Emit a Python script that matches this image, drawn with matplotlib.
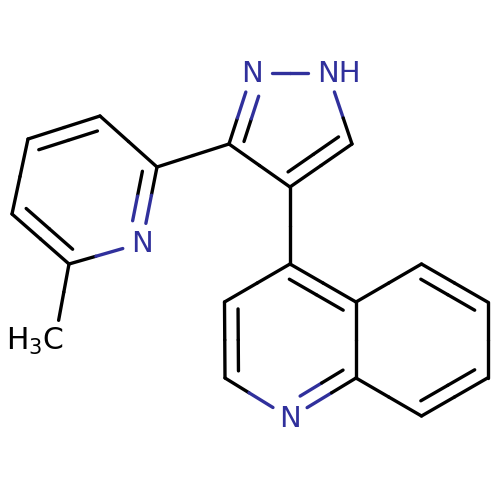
import numpy as np
import matplotlib
matplotlib.use("Agg")
import matplotlib.pyplot as plt

# ------------------ atoms (pixel positions) ------------------
atom_x = [290, 224.5, 225, 290, 356, 356, 421.5, 487.5, 487.5, 421.5,
          290, 229, 252, 328, 352,
          157, 100, 28, 12, 69, 142, 55]
atom_y = [264, 302, 378, 418, 378, 302, 264, 302, 378, 416,
          187, 144, 73, 73, 144,
          167, 116, 139, 214, 264, 243, 340]
atom_labels = {3: "N", 12: "N", 13: "NH", 20: "N", 21: "H$_3$C"}
hetero_atoms = [3, 12, 13, 20]

# ------------------ bonds ------------------
single_bonds = [(0, 1), (2, 3), (4, 5), (5, 6), (7, 8), (9, 4),
                (0, 10), (10, 11), (12, 13), (13, 14), (11, 15),
                (15, 16), (17, 18), (19, 20), (19, 21)]
# (atom, atom, atoms of the ring the inner line leans to)
double_bonds = [(0, 5, (0, 1, 2, 3, 4, 5)), (1, 2, (0, 1, 2, 3, 4, 5)), (3, 4, (0, 1, 2, 3, 4, 5)),
                (6, 7, (4, 5, 6, 7, 8, 9)), (8, 9, (4, 5, 6, 7, 8, 9)),
                (11, 12, (10, 11, 12, 13, 14)), (10, 14, (10, 11, 12, 13, 14)),
                (15, 20, (15, 16, 17, 18, 19, 20)), (16, 17, (15, 16, 17, 18, 19, 20)),
                (18, 19, (15, 16, 17, 18, 19, 20))]

BLACK = "#000000"
BLUE = "#30309C"
LINE_W = 2.4
INNER_OFFSET = 13.5
INNER_SHORT = 7
LABEL_GAP = 20

plt.rcParams["mathtext.default"] = "regular"
xy = np.column_stack([atom_x, atom_y]).astype(float)

fig = plt.figure(figsize=(5, 5), dpi=100)
ax = fig.add_axes([0, 0, 1, 1])
ax.set_xlim(0, 500)
ax.set_ylim(500, 0)
ax.axis("off")


def atom_colour(i):
    return BLUE if i in hetero_atoms else BLACK


def draw_segment(p, q, a, b):
    # half of the drawn part in each atom's colour
    mid = (p + q) / 2
    for (s, e, c) in [(p, mid, atom_colour(a)), (mid, q, atom_colour(b))]:
        ax.plot([s[0], e[0]], [s[1], e[1]], color=c, lw=LINE_W, solid_capstyle="round")


def trimmed(a, b, short_a, short_b, shift=(0, 0)):
    p, q = xy[a], xy[b]
    u = (q - p) / np.linalg.norm(q - p)
    return p + u * short_a + shift, q - u * short_b + shift


def gap(i, default=0):
    return LABEL_GAP if i in atom_labels else default


# ------------------ draw bonds ------------------
for a, b in single_bonds:
    p, q = trimmed(a, b, gap(a), gap(b))
    draw_segment(p, q, a, b)

for a, b, ring in double_bonds:
    p, q = trimmed(a, b, gap(a), gap(b))
    draw_segment(p, q, a, b)

    # inner line, shifted to the ring centre
    u = (xy[b] - xy[a]) / np.linalg.norm(xy[b] - xy[a])
    n = np.array([-u[1], u[0]])
    centre = xy[list(ring)].mean(axis=0)
    if np.dot(centre - xy[a], n) < 0:
        n = -n
    p, q = trimmed(a, b, gap(a, INNER_SHORT), gap(b, INNER_SHORT), n * INNER_OFFSET)
    draw_segment(p, q, a, b)

# ------------------ atom labels ------------------
ax.text(xy[3, 0], 427, atom_labels[3], color=BLUE, fontsize=21, ha="center", va="baseline")
ax.text(xy[12, 0], 82, atom_labels[12], color=BLUE, fontsize=21, ha="center", va="baseline")
ax.text(xy[13, 0] - 10.5, 82, atom_labels[13], color=BLUE, fontsize=21, ha="left", va="baseline")
ax.text(xy[20, 0], 252, atom_labels[20], color=BLUE, fontsize=21, ha="center", va="baseline")
ax.text(5.5, 349.5, atom_labels[21], color=BLACK, fontsize=21.5, ha="left", va="baseline")

fig.savefig("out.png", dpi=100, facecolor="white")
